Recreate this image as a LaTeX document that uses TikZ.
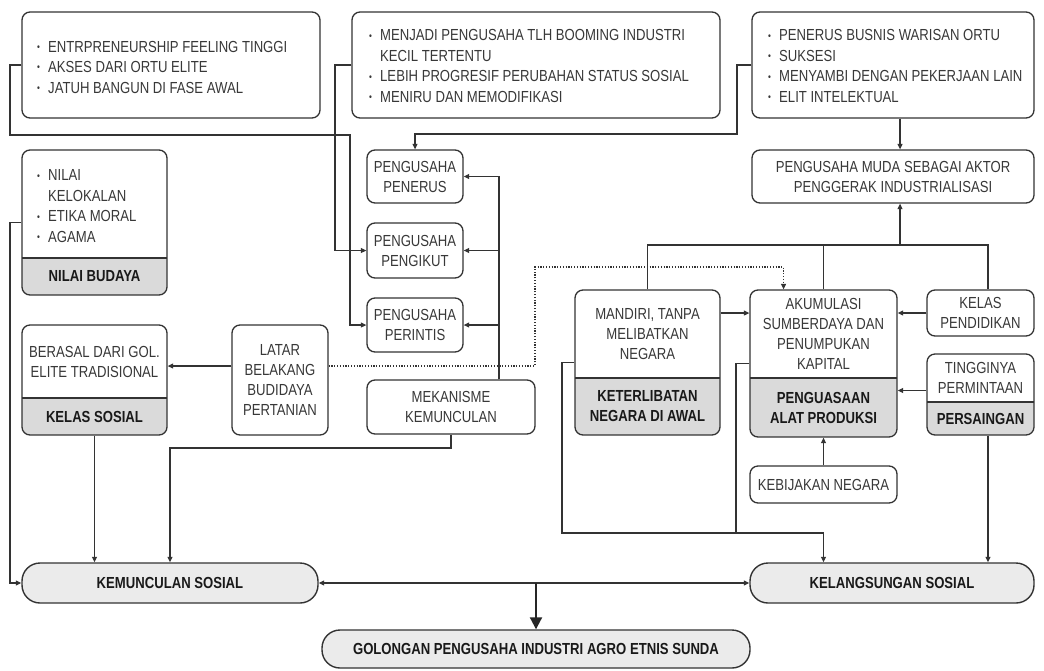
\documentclass[tikz,border=0pt]{standalone}
\usepackage{fontspec}
\setmainfont{Liberation Sans}[FakeStretch=0.82]
\usetikzlibrary{arrows.meta,calc}
\definecolor{ln}{HTML}{333333}
\definecolor{tx}{HTML}{383838}
\definecolor{hd}{HTML}{DADADA}
\definecolor{st}{HTML}{EBEBEB}
\tikzset{
  box/.style={draw=ln, line width=1.3pt, rounded corners=8pt, inner sep=0pt},
  txt/.style={font=\fontsize{16}{20}\selectfont, text=tx, align=center, inner sep=0pt},
  ltxt/.style={font=\fontsize{16}{20.5}\selectfont, text=tx, align=left, inner sep=0pt, anchor=west},
  btxt/.style={font=\fontsize{16}{20}\selectfont\bfseries, text=black!90, align=center, inner sep=0pt},
  conn/.style={draw=ln, line width=1.2pt},
  arr/.style={conn, -{Triangle[length=5.5pt,width=5pt]}},
  dotln/.style={draw=ln, line width=1.2pt, dash pattern=on 1.2pt off 1.6pt, -{Triangle[length=5.5pt,width=5pt]}},
  darr/.style={conn, {Triangle[length=5.5pt,width=5pt]}-{Triangle[length=5.5pt,width=5pt]}},
  bigarr/.style={draw=black!85, line width=2pt, -{Triangle[length=12pt,width=12pt]}},
  pill/.style={draw=ln, line width=1.4pt, rounded corners=18pt, fill=st, inner sep=0pt}
}
\newcommand\bul{\makebox[11pt][l]{\raisebox{1.6pt}{\fontsize{10}{10}\selectfont\textbullet}}}
\newcommand\ind{\hspace*{11pt}}
\newcommand\mybox[6]{%
  \node[box,#6,minimum width={#4-#2},minimum height={#5-#3}] (#1) at ({(#2+#4)/2},{(#3+#5)/2}) {};}
\newcommand\mysplit[8]{%
  \begin{scope}
    \clip[rounded corners=8pt] (#2,#3) rectangle (#4,#5);
    \fill[hd] (#2,#6) rectangle (#4,#5);
  \end{scope}
  \draw[conn] (#2,#6) -- (#4,#6);
  \node[box,minimum width={#4-#2},minimum height={#5-#3}] (#1) at ({(#2+#4)/2},{(#3+#5)/2}) {};
  \node[txt] (#1t) at ({(#2+#4)/2},{(#3+#6)/2}) {#7};
  \node[btxt] (#1h) at ({(#2+#4)/2},{(#6+#5)/2}) {#8};}
\begin{document}
\begin{tikzpicture}[x=1pt,y=-1pt]
\useasboundingbox[fill=white] (0,0) rectangle (1044,670);

% top bullet boxes
\mybox{A}{22}{12}{320}{118}{}
\node[ltxt] (At) at (37,67) {\bul ENTRPRENEURSHIP FEELING TINGGI\\\bul AKSES DARI ORTU ELITE\\\bul JATUH BANGUN DI FASE AWAL};
\mybox{B}{352}{12}{720}{118}{}
\node[ltxt] (Bt) at (369,66) {\bul MENJADI PENGUSAHA TLH BOOMING INDUSTRI\\\ind KECIL TERTENTU\\\bul LEBIH PROGRESIF PERUBAHAN STATUS SOSIAL\\\bul MENIRU DAN MEMODIFIKASI};
\mybox{C}{752}{12}{1034}{118}{}
\node[ltxt] (Ct) at (768,66) {\bul PENERUS BUSNIS WARISAN ORTU\\\bul SUKSESI\\\bul MENYAMBI DENGAN PEKERJAAN LAIN\\\bul ELIT INTELEKTUAL};

% pengusaha muda
\mybox{PM}{752}{150}{1034}{203}{}
\node[txt] (PMt) at (PM) {PENGUSAHA MUDA SEBAGAI AKTOR\\PENGGERAK INDUSTRIALISASI};

% pengusaha types
\mybox{pen}{367}{150}{463}{203}{}
\node[txt] at (pen) {PENGUSAHA\\PENERUS};
\mybox{pik}{367}{223}{463}{278}{}
\node[txt] at (pik) {PENGUSAHA\\PENGIKUT};
\mybox{per}{367}{298}{463}{352}{}
\node[txt] at (per) {PENGUSAHA\\PERINTIS};
\mybox{mek}{367}{380}{535}{434}{}
\node[txt] at (mek) {MEKANISME\\KEMUNCULAN};

% left split boxes
\mysplit{nb}{22}{150}{167}{295}{258}{}{NILAI BUDAYA}
\node[ltxt] (nbl) at (37,206) {\bul NILAI\\\ind KELOKALAN\\\bul ETIKA MORAL\\\bul AGAMA};
\mysplit{ks}{22}{325}{167}{435}{398}{BERASAL DARI GOL.\\ELITE TRADISIONAL}{KELAS SOSIAL}
\mybox{lat}{232}{325}{328}{435}{}
\node[txt] at (lat) {LATAR\\BELAKANG\\BUDIDAYA\\PERTANIAN};

% right middle boxes
\mysplit{mn}{575}{290}{720}{435}{378}{MANDIRI, TANPA\\MELIBATKAN\\NEGARA}{KETERLIBATAN\\NEGARA DI AWAL}
\mysplit{ak}{750}{290}{897}{437}{378}{AKUMULASI\\SUMBERDAYA DAN\\PENUMPUKAN\\KAPITAL}{PENGUASAAN\\ALAT PRODUKSI}
\mybox{kp}{927}{290}{1034}{336}{}
\node[txt] at (kp) {KELAS\\PENDIDIKAN};
\mysplit{ps}{927}{354}{1034}{435}{402}{TINGGINYA\\PERMINTAAN}{PERSAINGAN}
\mybox{kn}{750}{466}{897}{503}{}
\node[txt] at (kn) {KEBIJAKAN NEGARA};

% bottom pills
\node[pill, minimum width=296, minimum height=40] (kms) at (170,583) {};
\node[btxt] at (kms) {KEMUNCULAN SOSIAL};
\node[pill, minimum width=284, minimum height=40] (kls) at (892,583) {};
\node[btxt] at (kls) {KELANGSUNGAN SOSIAL};
\node[pill, minimum width=428, minimum height=38] (gol) at (536,649) {};
\node[btxt] at (gol) {GOLONGAN PENGUSAHA INDUSTRI AGRO ETNIS SUNDA};

% connectors
\draw[arr] (A.west) -- (10,65) -- (10,135) -- (350,135) |- (per.west);
\draw[arr] (B.west) -- (335,65) |- (pik.west);
\draw[arr] (C.west) -- (737,65) -- (737,134) -- (415,134) -- (pen.north);
\draw[arr] ([xshift=7pt]C.south) -- ([xshift=7pt]PM.north);

\draw[arr] ([xshift=48pt]mek.north) |- (pen.east);
\draw[arr] ([xshift=48pt]mek.north) |- (pik.east);
\draw[arr] ([xshift=48pt]mek.north) |- (per.east);
\draw[arr] (mek.south) |- (170,448) -- (kms.north);

\draw[arr] (nb.west) -- (10,222.5) |- (kms.west);
\draw[arr] (ks.south) -- (ks.south |- kms.north);
\draw[arr] ([yshift=14pt]lat.west) -- ([yshift=14pt]ks.east);
\draw[dotln] ([yshift=14pt]lat.east) -- (535,366) -- (535,267) -- (783.5,267) -- ([xshift=-40pt]ak.north);

\draw[darr] (kms.east) -- (kls.west);
\draw[bigarr] (536,583) -- (gol.north);

\draw[arr] (mn.east |- kp.west) -- (ak.west |- kp.west);
\draw[arr] (kp.west) -- (ak.east |- kp.west);
\draw[arr] ([yshift=4pt]ps.west) -- ([yshift=4pt]ak.east |- ps.west);
\draw[arr] (kn.north) -- (ak.south);

\draw[conn] (mn.north) -- (647.5,245) -- (988,245) -- ([xshift=7.5pt]kp.north);
\draw[conn] (ak.north) -- (823.5,245);
\draw[arr] (900,245) -- ([xshift=7pt]PM.south);

\draw[arr] (mn.west) -- (562,362.5) -- (562,533) -- (823.5,533) -- (kls.north -| kn.south);
\draw[conn] (ak.west) -- (736,363.5) -- (736,533);
\draw[arr] ([xshift=7.5pt]ps.south) -- ([xshift=7.5pt]ps.south |- kls.north);
\end{tikzpicture}
\end{document}
